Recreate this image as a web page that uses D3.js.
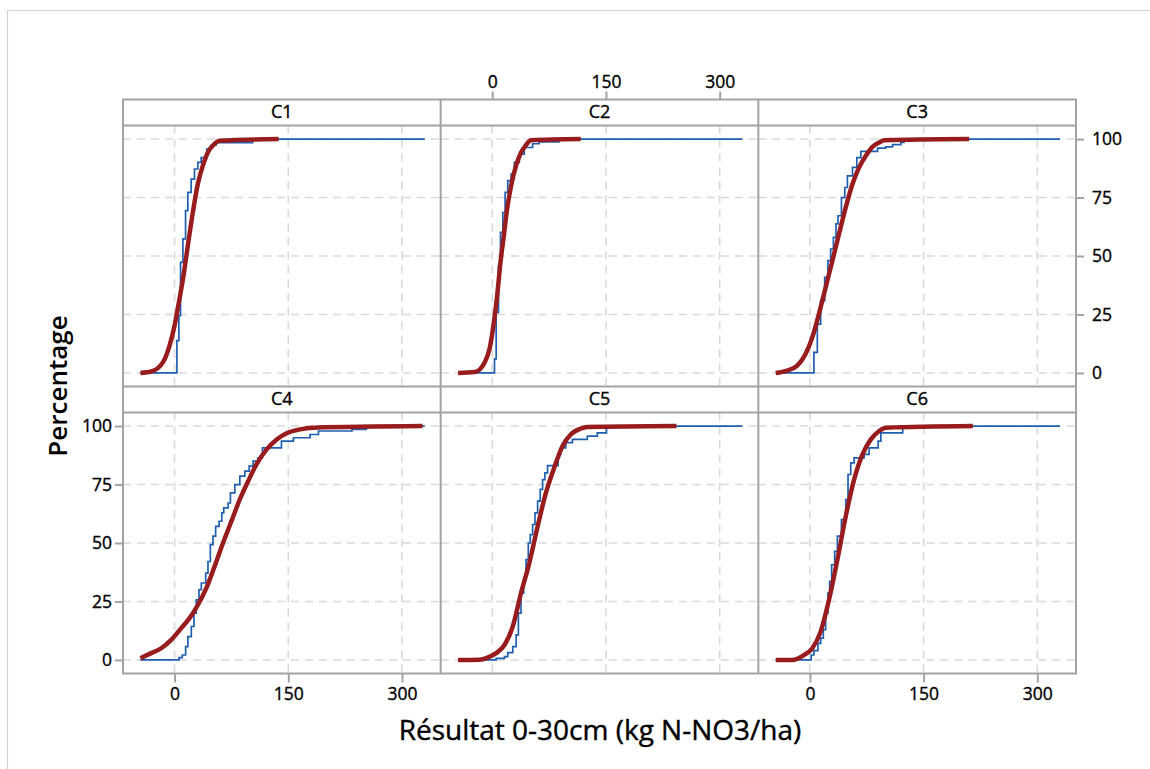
<!DOCTYPE html>
<html>
<head>
<meta charset="utf-8">
<script src="https://cdn.jsdelivr.net/npm/d3@7/dist/d3.min.js"></script>
<style>
  body { margin: 0; background: #fff; }
  svg { display: block; }
  text { font-family: "Open Sans", "Noto Sans", sans-serif; fill: #000; }
</style>
</head>
<body>
<svg id="chart" width="1150" height="769"></svg>
<script>
// ---- data -------------------------------------------------------------
const panelNames = ["C1", "C2", "C3", "C4", "C5", "C6"];
const xTicks = [0, 150, 300];
const yTicks = [0, 25, 50, 75, 100];
const xDomain = [-68, 351];
const yDomain = [-5.8, 105.8];
const dataRange = [-45, 330];   // overall min / max of the measurements

// empirical CDF: jump positions (kg N-NO3/ha) and cumulative % after each jump
const c1StepX   = [3.1, 5.7, 7.9, 11, 14.5, 17.5, 21.9, 26.3, 30.7, 35.1, 42.5, 48.2, 54.8, 103];
const c1StepPct = [13.8, 24.5, 47.3, 57.3, 69.4, 77.2, 82.9, 87.2, 90, 92.1, 95.7, 97.4, 98.5, 100];
const c2StepX   = [3, 5.2, 8.3, 10.9, 14, 17, 20.5, 24.9, 29.2, 35.7, 42.3, 53.3, 61.9, 88];
const c2StepPct = [6, 25.9, 45.9, 60.1, 68.6, 77.2, 82.2, 85, 90, 93.6, 96.4, 98, 98.8, 100];
const c3StepX   = [5.3, 9.8, 14.2, 19.5, 23.8, 27.4, 31, 34.4, 37.1, 41.6, 46, 49.5, 56.2, 61.9, 67.2, 89.3, 100, 109, 120, 124];
const c3StepPct = [8.8, 20.9, 30.9, 40.9, 48, 53, 58, 63.7, 67.2, 75, 79.3, 84.3, 87.9, 92.1, 94.7, 96.1, 96.7, 97.6, 98.6, 100];
const c4StepX   = [6, 10.2, 14.6, 17.6, 22.1, 25.6, 28.7, 32.2, 35.3, 41.1, 44.1, 47.2, 50.7, 54.2, 58.7, 62.3, 64.9, 70.6, 73.7, 79.5, 86.1, 92.7, 98.4, 103.7, 110, 115.9, 141, 156.7, 178.8, 189.8, 234, 253];
const c4StepPct = [1, 2.1, 5.7, 10, 14.3, 20, 25.7, 30, 32.9, 37.1, 42.1, 49.3, 52.9, 57.1, 59.3, 62.9, 65, 67.1, 71.4, 75, 78.6, 80.7, 82.9, 85, 86.4, 90.7, 93.6, 95, 96.4, 97.9, 98.6, 100];
const c5StepX   = [5.2, 16.2, 20.5, 27.1, 31.5, 34.5, 38, 41.5, 44.6, 47.6, 50.2, 53.3, 56.4, 59.9, 63.3, 66.4, 69.5, 73, 86.9, 90.4, 97, 105.8, 125.4, 138.5, 150.7];
const c5StepPct = [0.7, 1.4, 3.1, 5.7, 10.7, 20, 28.6, 34.3, 42.9, 50, 53.6, 57.9, 62.9, 67.9, 72.9, 77.1, 80, 83.1, 87.9, 90.7, 92.9, 94.3, 95.7, 97.1, 100];
const c6StepX   = [1.8, 5.3, 10.6, 14.2, 17.7, 20.8, 23.8, 26.1, 28.7, 32.7, 36.3, 41.6, 47.3, 50.3, 53.9, 58.3, 71.5, 78.1, 90, 93.6, 122.4];
const c6StepPct = [2.1, 4, 7.1, 9.3, 12.9, 20, 28.6, 33.6, 40.7, 46.4, 52.9, 60, 68.6, 79.3, 84.3, 86.4, 87.9, 90.7, 93.6, 97.1, 100];

// fitted normal CDF, sampled (kg N-NO3/ha, %)
const c1FitX   = [-45, -30.7, -15.4, -6.6, 0, 5.7, 11.8, 17.5, 24.1, 30.7, 37.3, 43.9, 52.6, 59.2, 137.3];
const c1FitPct = [0, 0.6, 4.5, 11.7, 20.2, 30.2, 41.6, 54.4, 68.6, 80.8, 88.6, 94.3, 97.9, 99.3, 100];
const c2FitX   = [-45, -23.1, -10, -3.5, 2.2, 6.5, 10.9, 15.3, 19.6, 24.9, 31.4, 38, 44.5, 51, 116.7];
const c2FitPct = [0, 0.4, 4.5, 10.3, 21.6, 33, 47.3, 58.7, 70, 80, 88.6, 94.3, 97.4, 99.5, 100];
const c3FitX   = [-45, -30, -16.7, -5.7, 3.2, 11.9, 20.8, 29.7, 38.4, 47.3, 56.2, 64.9, 73.8, 82.6, 91.4, 98, 210];
const c3FitPct = [0, 1, 3.1, 8.1, 15.2, 25.2, 36.6, 48, 59.4, 70.8, 80.8, 87.9, 92.9, 96.7, 98.5, 99.5, 100];
const c4FitX   = [-45, -33, -17.6, -4.4, 8.8, 19.8, 30.9, 41.9, 52.8, 63.9, 75, 86, 97, 108, 121.5, 134.7, 147.9, 165.6, 183, 327];
const c4FitPct = [0.7, 2.6, 5, 8.6, 13.6, 17.9, 23.6, 30.7, 40, 50, 59.3, 68.6, 76.4, 83.6, 90, 94.3, 96.9, 98.6, 99.3, 100];
const c5FitX   = [-45, -16.6, -5.6, 5.2, 16.2, 27.1, 38, 48.9, 59.9, 70.8, 81.7, 92.6, 103.5, 116.6, 125.4, 243];
const c5FitPct = [0, 0.1, 1.1, 2.9, 6.4, 14.3, 28.6, 41.4, 57.1, 71.4, 82.1, 91.4, 96.4, 98.9, 99.6, 100];
const c6FitX   = [-45, -23.3, -7.9, 3.2, 14.2, 25.2, 36.3, 47.3, 58.3, 69.4, 80.4, 91.4, 100.3, 215];
const c6FitPct = [0, 0, 2.1, 5, 12.1, 25.7, 42.9, 61.4, 77.1, 87.9, 94.3, 97.9, 99.3, 100];

const stepXs   = [c1StepX, c2StepX, c3StepX, c4StepX, c5StepX, c6StepX];
const stepPcts = [c1StepPct, c2StepPct, c3StepPct, c4StepPct, c5StepPct, c6StepPct];
const fitXs    = [c1FitX, c2FitX, c3FitX, c4FitX, c5FitX, c6FitX];
const fitPcts  = [c1FitPct, c2FitPct, c3FitPct, c4FitPct, c5FitPct, c6FitPct];

// ---- layout -----------------------------------------------------------
const svg = d3.select("#chart");
const frame = { left: 123, right: 1076, top: 99.5, bottom: 673.5 };
const stripH = 26;
const frameColor = "#a3a3a3";
const gridColor = "#d9d9d9";
const ecdfColor = "#1f5fb0";
const fitColor = "#981b1e";
const fontStack = "'Open Sans','Noto Sans',sans-serif";

// page border
svg.append("rect")
  .attr("x", 7.5).attr("y", 10.5).attr("width", 1200).attr("height", 800)
  .attr("fill", "none").attr("stroke", "#d3d3d3").attr("stroke-width", 1.2);

const colBand = d3.scaleBand().domain([0, 1, 2]).range([frame.left, frame.right]);
const rowBand = d3.scaleBand().domain([0, 1]).range([frame.top, frame.bottom]);

const panels = panelNames.map((name, i) => {
  const c = i % 3, r = Math.floor(i / 3);
  const x0 = colBand(c), w = colBand.bandwidth();
  const y0 = rowBand(r) + stripH, h = rowBand.bandwidth() - stripH;
  return {
    name, c, r, x0, w, y0, h,
    x: d3.scaleLinear().domain(xDomain).range([x0, x0 + w]),
    y: d3.scaleLinear().domain(yDomain).range([y0 + h, y0]),
    ecdf: [[dataRange[0], 0]]
      .concat(stepXs[i].map((v, k) => [v, stepPcts[i][k]]))
      .concat([[dataRange[1], 100]]),
    fit: fitXs[i].map((v, k) => [v, fitPcts[i][k]])
  };
});

const defs = svg.append("defs");

panels.forEach((p, i) => {
  defs.append("clipPath").attr("id", "clip" + i)
    .append("rect").attr("x", p.x0).attr("y", p.y0).attr("width", p.w).attr("height", p.h);

  const g = svg.append("g").attr("clip-path", `url(#clip${i})`);

  // dashed reference grid
  g.selectAll("line.vg").data(xTicks).join("line")
    .attr("x1", d => p.x(d)).attr("x2", d => p.x(d))
    .attr("y1", p.y0).attr("y2", p.y0 + p.h)
    .attr("stroke", gridColor).attr("stroke-width", 1.6).attr("stroke-dasharray", "8,6");
  g.selectAll("line.hg").data(yTicks).join("line")
    .attr("x1", p.x0).attr("x2", p.x0 + p.w)
    .attr("y1", d => p.y(d)).attr("y2", d => p.y(d))
    .attr("stroke", gridColor).attr("stroke-width", 1.6).attr("stroke-dasharray", "8,6");

  // empirical CDF
  g.append("path").datum(p.ecdf)
    .attr("fill", "none").attr("stroke", ecdfColor).attr("stroke-width", 1.7)
    .attr("d", d3.line().x(d => p.x(d[0])).y(d => p.y(d[1])).curve(d3.curveStepAfter));

  // fitted normal CDF
  g.append("path").datum(p.fit)
    .attr("fill", "none").attr("stroke", fitColor).attr("stroke-width", 4.5)
    .attr("stroke-linejoin", "round")
    .attr("d", d3.line().x(d => p.x(d[0])).y(d => p.y(d[1])).curve(d3.curveMonotoneX));

  // strip label
  svg.append("text")
    .attr("x", p.x0 + p.w / 2).attr("y", rowBand(p.r) + stripH / 2 + 1)
    .attr("text-anchor", "middle").attr("dominant-baseline", "middle")
    .attr("font-size", 18).attr("stroke", "#000").attr("stroke-width", 0.35)
    .text(p.name);
});

// ---- frame lines ------------------------------------------------------
const fg = svg.append("g").attr("stroke", frameColor).attr("stroke-width", 2).attr("fill", "none");
fg.append("rect").attr("x", frame.left).attr("y", frame.top)
  .attr("width", frame.right - frame.left).attr("height", frame.bottom - frame.top);
[1, 2].forEach(c => fg.append("line")
  .attr("x1", colBand(c)).attr("x2", colBand(c)).attr("y1", frame.top).attr("y2", frame.bottom));
fg.append("line").attr("x1", frame.left).attr("x2", frame.right)
  .attr("y1", rowBand(1)).attr("y2", rowBand(1));
[0, 1].forEach(r => fg.append("line")
  .attr("x1", frame.left).attr("x2", frame.right)
  .attr("y1", rowBand(r) + stripH).attr("y2", rowBand(r) + stripH));

// ---- axes -------------------------------------------------------------
function styleAxis(sel) {
  sel.select(".domain").remove();
  sel.selectAll(".tick line").attr("stroke", frameColor).attr("stroke-width", 2);
  sel.selectAll(".tick text").attr("font-size", 17.5).attr("fill", "#000")
    .attr("stroke", "#000").attr("stroke-width", 0.35)
    .style("font-family", fontStack);
}

[panels[3], panels[5]].forEach(p => {
  svg.append("g").attr("transform", `translate(0,${frame.bottom})`)
    .call(d3.axisBottom(p.x).tickValues(xTicks).tickSize(9).tickPadding(5))
    .call(styleAxis);
});
svg.append("g").attr("transform", `translate(0,${frame.top})`)
  .call(d3.axisTop(panels[1].x).tickValues(xTicks).tickSize(8).tickPadding(4))
  .call(styleAxis);
svg.append("g").attr("transform", `translate(${frame.left},0)`)
  .call(d3.axisLeft(panels[3].y).tickValues(yTicks).tickSize(8).tickPadding(3))
  .call(styleAxis);
svg.append("g").attr("transform", `translate(${frame.right},0)`)
  .call(d3.axisRight(panels[0].y).tickValues(yTicks).tickSize(8).tickPadding(8))
  .call(styleAxis);

// ---- axis titles ------------------------------------------------------
svg.append("text")
  .attr("x", 600).attr("y", 740).attr("text-anchor", "middle")
  .attr("font-size", 28).attr("stroke", "#000").attr("stroke-width", 0.4)
  .text("Résultat 0-30cm (kg N-NO3/ha)");
svg.append("text")
  .attr("transform", "translate(67,386) rotate(-90)").attr("text-anchor", "middle")
  .attr("font-size", 26).attr("font-weight", 600).text("Percentage");
</script>
</body>
</html>
